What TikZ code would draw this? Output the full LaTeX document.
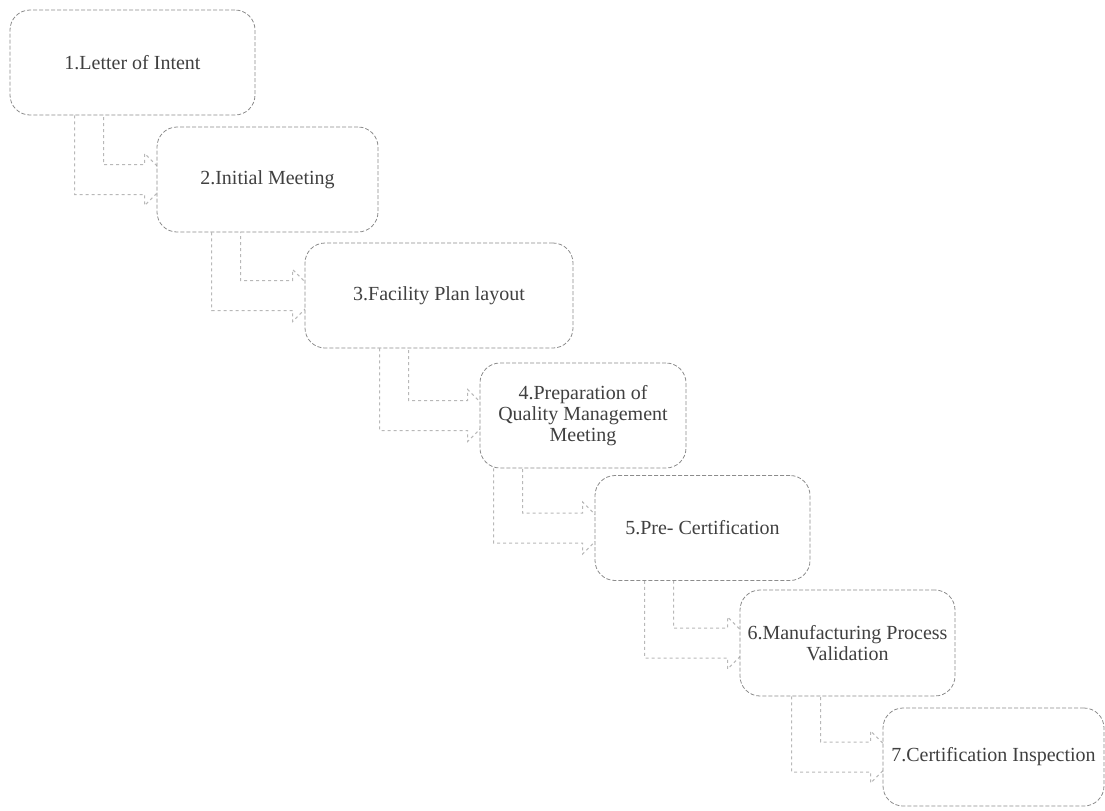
\documentclass[tikz,border=0pt]{standalone}
\usepackage{fontspec}
\setmainfont{Liberation Serif}
\usetikzlibrary{calc,backgrounds}

\begin{document}
\begin{tikzpicture}[
    x=0.5pt, y=-0.5pt,
    box/.style={rectangle, draw=black!45, dash pattern=on 2pt off 1pt, rounded corners=10pt, fill=white, minimum height=52.5pt, align=center, text=black!75, font=\fontsize{10}{10.5}\selectfont, inner sep=2pt},
    conn/.style={draw=black!28, dash pattern=on 1.5pt off 1.5pt, line width=0.5pt}
]
\useasboundingbox (0,0) rectangle (1105,810);

% Steps
\node[box, minimum width=122.5pt] (letter) at (132.5,62.5) {1.Letter of Intent};
\node[box, minimum width=110.5pt] (meeting) at (267.5,179.5) {2.Initial Meeting};
\node[box, minimum width=134pt] (layout) at (439,295.5) {3.Facility Plan layout};
\node[box, minimum width=103pt] (quality) at (583,415.5) {4.Preparation of\\Quality Management\\Meeting};
\node[box, minimum width=107.5pt] (precert) at (702.5,528) {5.Pre- Certification};
\node[box, minimum width=107.5pt, minimum height=53pt] (process) at (847.5,643) {6.Manufacturing Process\\Validation};
\node[box, minimum width=110.5pt, minimum height=49pt] (inspection) at (993.5,757) {7.Certification Inspection};

% Bent arrows between the steps
\begin{scope}[on background layer]
\foreach \a/\b/\o in {letter/meeting/65, meeting/layout/55, layout/quality/75, quality/precert/14, precert/process/50, process/inspection/52}{
  \coordinate (top) at ($(\a.south west)+(\o,0)$);
  \coordinate (tip) at ($(\b.west)+(14,0)$);
  \draw[conn] (top) -- ($(top |- tip)+(0,15)$) -- ($(tip)+(-26,15)$) -- ($(tip)+(-26,26)$) -- (tip)
    -- ($(tip)+(-26,-26)$) -- ($(tip)+(-26,-15)$) -- ($(top |- tip)+(29,-15)$) -- ($(top)+(29,0)$);
}
\end{scope}

\end{tikzpicture}
\end{document}
